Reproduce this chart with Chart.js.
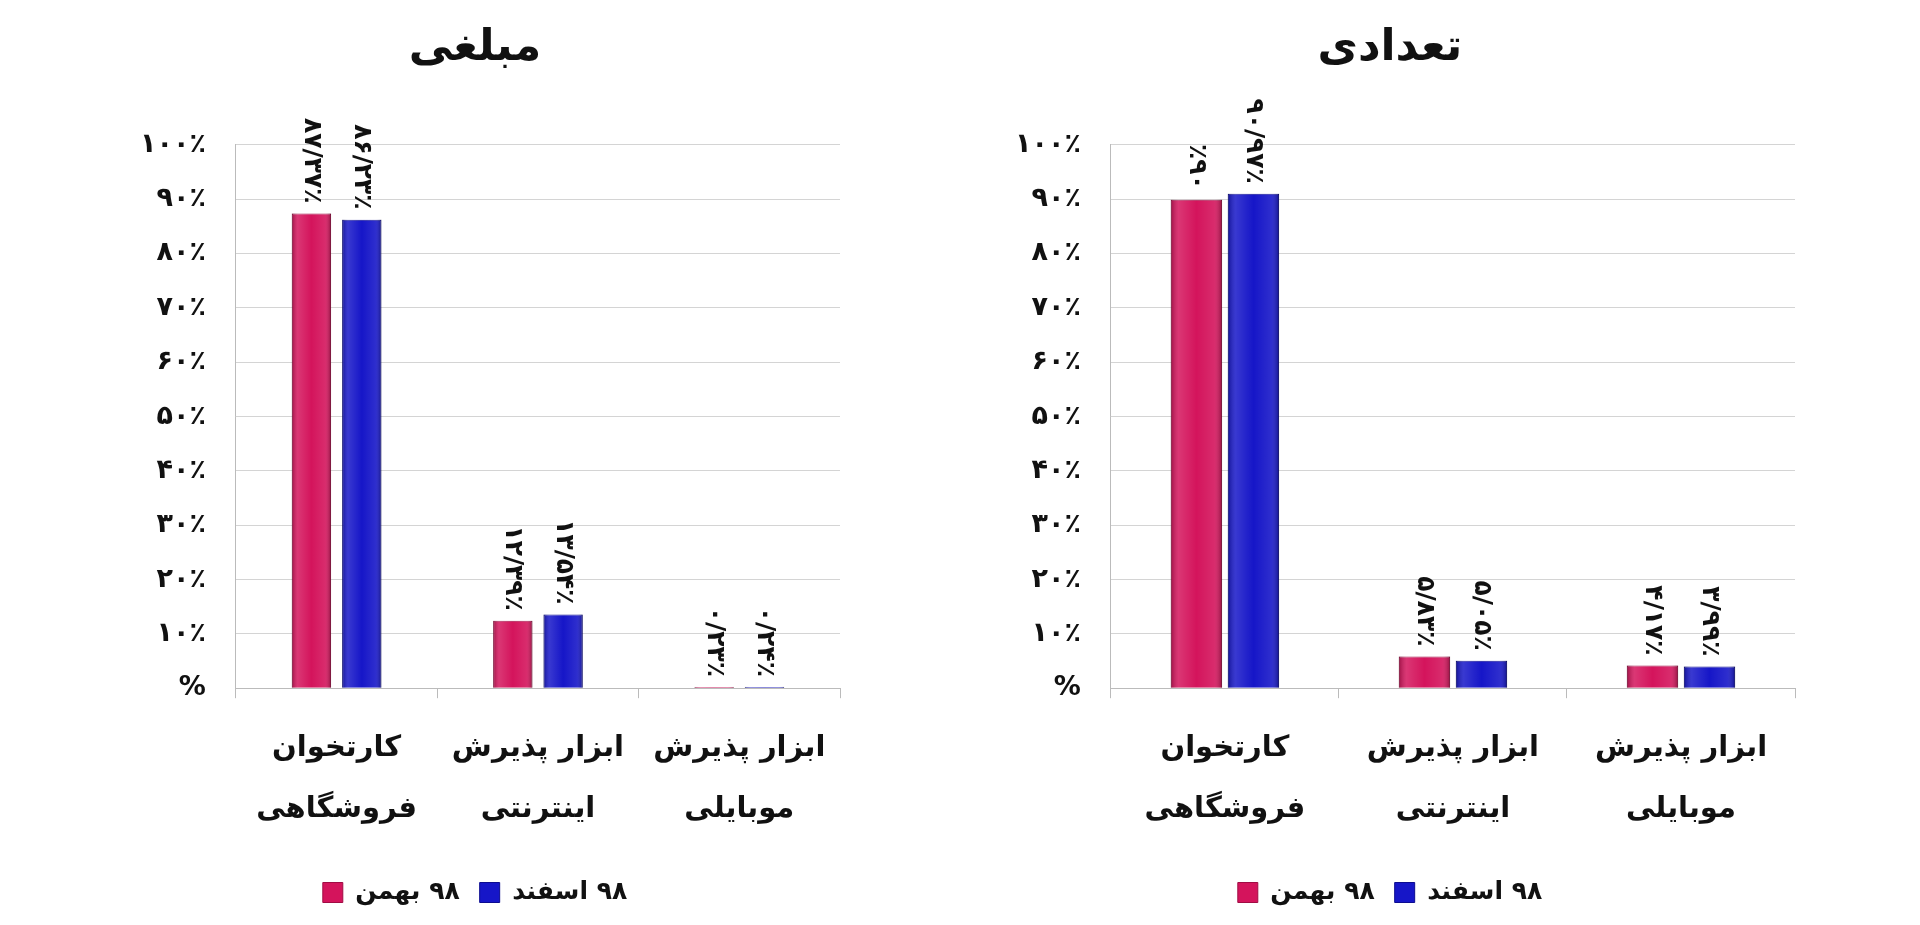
<!DOCTYPE html>
<html>
<head>
<meta charset="utf-8">
<script src="https://cdn.jsdelivr.net/npm/chart.js@4.4.0/dist/chart.umd.min.js"></script>
<style>
  body { margin: 0; background: #fff; width: 1920px; height: 925px; overflow: hidden; }
  .box { position: absolute; top: 0; height: 925px; }
</style>
</head>
<body>
<div class="box" style="left:110px;width:750px"><canvas id="left"></canvas></div>
<div class="box" style="left:985px;width:825px"><canvas id="right"></canvas></div>
<script>
const categories = [['کارتخوان', 'فروشگاهی'], ['ابزار پذیرش', 'اینترنتی'], ['ابزار پذیرش', 'موبایلی']];
const seriesNames = ['بهمن\u200E ۹۸', 'اسفند\u200E ۹۸'];
const amountBahman = [87.37, 12.39, 0.23];
const amountEsfand = [86.23, 13.54, 0.24];
const amountLabelsBahman = ['۸۷/۳۷٪', '۱۲/۳۹٪', '۰/۲۳٪'];
const amountLabelsEsfand = ['۸۶/۲۳٪', '۱۳/۵۴٪', '۰/۲۴٪'];
const countBahman = [89.9, 5.83, 4.17];
const countEsfand = [90.97, 5.05, 3.99];
const countLabelsBahman = ['٪۹۰', '۵/۸۳٪', '۴/۱۷٪'];
const countLabelsEsfand = ['۹۰/۹۷٪', '۵/۰۵٪', '۳/۹۹٪'];
const yTicks = ['%', '۱۰٪', '۲۰٪', '۳۰٪', '۴۰٪', '۵۰٪', '۶۰٪', '۷۰٪', '۸۰٪', '۹۰٪', '۱۰۰٪'];

const FONT = '"DejaVu Sans", sans-serif';
const PINK = '#d4145c';
const BLUE = '#1616c8';

const barLabels = {
  id: 'barLabels',
  afterDatasetsDraw(chart) {
    const { ctx } = chart;
    ctx.save();
    ctx.font = 'bold 25px ' + FONT;
    ctx.fillStyle = '#111';
    ctx.textAlign = 'right';
    ctx.textBaseline = 'middle';
    ctx.direction = 'ltr';
    chart.data.datasets.forEach((ds, i) => {
      chart.getDatasetMeta(i).data.forEach((bar, j) => {
        ctx.save();
        ctx.translate(bar.x, bar.y - 10);
        ctx.rotate(Math.PI / 2);
        ctx.fillText('\u202D' + ds.labelsText[j] + '\u202C', 0, 0);
        ctx.restore();
      });
    });
    ctx.restore();
  },
};

const shade = {
  id: 'shade',
  afterDatasetsDraw(chart) {
    const { ctx } = chart;
    chart.data.datasets.forEach((ds, i) => {
      chart.getDatasetMeta(i).data.forEach((bar) => {
        const l = bar.x - bar.width / 2, r = bar.x + bar.width / 2;
        const g = ctx.createLinearGradient(l, 0, r, 0);
        g.addColorStop(0, 'rgba(0,0,0,0.25)');
        g.addColorStop(0.15, 'rgba(255,255,255,0.15)');
        g.addColorStop(0.5, 'rgba(255,255,255,0)');
        g.addColorStop(0.85, 'rgba(255,255,255,0.1)');
        g.addColorStop(1, 'rgba(0,0,0,0.3)');
        ctx.fillStyle = g;
        ctx.fillRect(l, bar.y, bar.width, bar.base - bar.y);
      });
    });
  },
};

function makeChart(id, title, a, b, la, lb, pad, barPct) {
  new Chart(document.getElementById(id), {
    type: 'bar',
    data: {
      labels: categories,
      datasets: [
        { label: seriesNames[0], data: a, labelsText: la, backgroundColor: PINK, borderColor: '#a00c44', borderWidth: 1 },
        { label: seriesNames[1], data: b, labelsText: lb, backgroundColor: BLUE, borderColor: '#0c0c90', borderWidth: 1 },
      ],
    },
    plugins: [shade, barLabels],
    options: {
      responsive: true,
      maintainAspectRatio: false,
      animation: false,
      layout: { padding: pad },
      datasets: { bar: { categoryPercentage: 0.5, barPercentage: barPct } },
      plugins: {
        tooltip: { enabled: false },
        title: { display: true, text: title, font: { family: FONT, size: 44, weight: 'bold' }, color: '#111', padding: { top: 22, bottom: 70 } },
        legend: {
          position: 'bottom',
          labels: { font: { family: FONT, size: 25, weight: 'bold' }, color: '#111', boxWidth: 20, boxHeight: 20, padding: 20 },
        },
      },
      scales: {
        x: {
          grid: { display: true, offset: true, drawOnChartArea: false, tickLength: 10, color: '#bbb' },
          border: { color: '#bbb' },
          ticks: { font: { family: FONT, size: 29, weight: 'bold', lineHeight: 2.1 }, color: '#111', padding: 20 },
        },
        y: {
          min: 0, max: 100,
          ticks: { stepSize: 10, callback: (v, i) => yTicks[i], font: { family: FONT, size: 27, weight: 'bold' }, color: '#111', padding: 30 },
          grid: { color: '#d4d4d4', tickLength: 0 },
          border: { color: '#bbb' },
        },
      },
    },
  });
}

makeChart('left', 'مبلغی', amountBahman, amountEsfand, amountLabelsBahman, amountLabelsEsfand, { left: 0, right: 20, bottom: 10, top: 0 }, 0.78);
makeChart('right', 'تعدادی', countBahman, countEsfand, countLabelsBahman, countLabelsEsfand, { left: 0, right: 15, bottom: 10, top: 0 }, 0.9);
</script>
</body>
</html>
